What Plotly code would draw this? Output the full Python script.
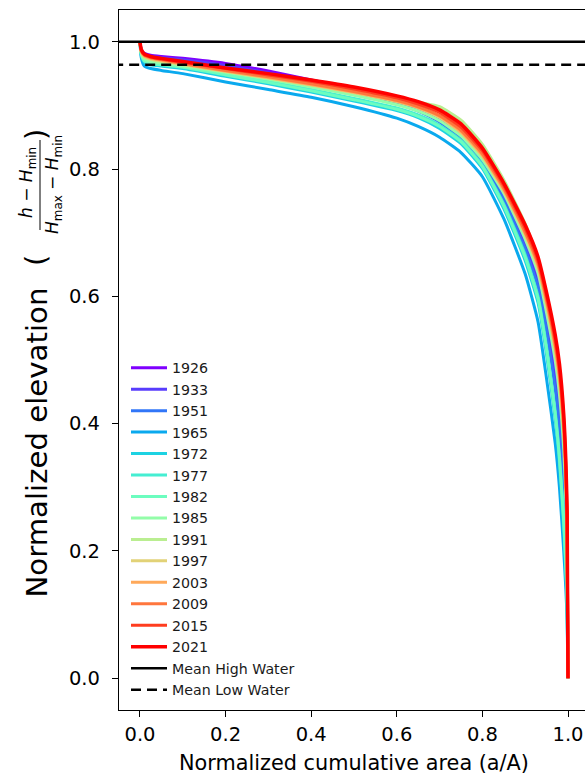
import plotly.graph_objects as go

# ---------------- data ----------------
YEARS = ["1926", "1933", "1951", "1965", "1972", "1977", "1982",
         "1985", "1991", "1997", "2003", "2009", "2015", "2021"]

X_GRID = [0.0, 0.003, 0.01, 0.025, 0.05, 0.1, 0.2, 0.3, 0.4, 0.5, 0.6, 0.65,
          0.7, 0.75, 0.8, 0.85, 0.9, 0.93, 0.95, 0.97, 0.98, 0.99, 0.995,
          0.998, 1.0]

Y_1926 = [1.0, .988, .982, .979, .977, .974, .966, .954, .940, .926, .907, .896,
          .879, .854, .815, .756, .683, .626, .560, .480, .420, .330, .260, .180, 0.0]
Y_1933 = [1.0, .987, .980, .977, .975, .972, .963, .951, .938, .925, .909, .898,
          .882, .857, .818, .760, .688, .632, .568, .490, .430, .340, .270, .190, 0.0]
Y_1951 = [1.0, .985, .977, .974, .972, .968, .958, .947, .934, .920, .903, .891,
          .874, .848, .810, .752, .675, .615, .545, .455, .390, .290, .220, .150, 0.0]
Y_1965 = [1.0, .975, .962, .958, .955, .950, .937, .925, .913, .898, .880, .867,
          .850, .826, .788, .722, .635, .560, .470, .370, .300, .200, .140, .090, 0.0]
Y_1972 = [1.0, .979, .968, .964, .962, .958, .946, .934, .921, .907, .892, .881,
          .864, .840, .801, .738, .656, .590, .508, .408, .338, .238, .170, .110, 0.0]
Y_1977 = [1.0, .982, .972, .968, .966, .962, .950, .938, .925, .911, .896, .885,
          .869, .845, .806, .745, .665, .600, .520, .420, .350, .250, .180, .120, 0.0]
Y_1982 = [1.0, .981, .970, .966, .964, .960, .948, .936, .923, .909, .894, .883,
          .867, .843, .804, .742, .661, .596, .515, .415, .345, .245, .175, .115, 0.0]
Y_1985 = [1.0, .982, .973, .969, .967, .962, .952, .941, .929, .916, .901, .891,
          .876, .852, .815, .762, .690, .636, .574, .500, .446, .360, .285, .205, 0.0]
Y_1991 = [1.0, .984, .976, .972, .969, .964, .953, .943, .933, .922, .913, .905,
          .898, .877, .839, .783, .714, .660, .603, .535, .488, .410, .335, .255, 0.0]
Y_1997 = [1.0, .984, .977, .973, .970, .965, .954, .943, .932, .920, .906, .896,
          .881, .857, .820, .766, .696, .644, .586, .515, .465, .385, .310, .230, 0.0]
Y_2003 = [1.0, .985, .978, .974, .971, .965, .954, .944, .933, .921, .907, .897,
          .883, .859, .822, .768, .699, .648, .590, .520, .472, .390, .315, .235, 0.0]
Y_2009 = [1.0, .986, .979, .975, .972, .966, .955, .945, .934, .922, .908, .898,
          .884, .861, .824, .770, .701, .651, .594, .525, .477, .396, .320, .240, 0.0]
Y_2015 = [1.0, .987, .980, .976, .973, .968, .958, .948, .938, .926, .912, .902,
          .889, .866, .829, .774, .707, .656, .600, .532, .485, .405, .330, .250, 0.0]
Y_2021 = [1.0, .988, .981, .977, .974, .969, .959, .950, .940, .929, .915, .906,
          .893, .871, .833, .778, .712, .662, .606, .540, .494, .415, .340, .260, 0.0]

SERIES = [Y_1926, Y_1933, Y_1951, Y_1965, Y_1972, Y_1977, Y_1982,
          Y_1985, Y_1991, Y_1997, Y_2003, Y_2009, Y_2015, Y_2021]

MEAN_HIGH_WATER = 1.0
MEAN_LOW_WATER = 0.964

X_TICKS = [0.0, 0.2, 0.4, 0.6, 0.8, 1.0]
Y_TICKS = [0.0, 0.2, 0.4, 0.6, 0.8, 1.0]

# ---------------- styles ----------------
COLORS = ["#7f00ff", "#583dfd", "#3176f8", "#0aa9ee", "#1dd2e2", "#45eed2",
          "#6cfdbf", "#93fda9", "#baee91", "#e2d277", "#ffa95a", "#ff763d",
          "#ff3d1f", "#ff0000"]
FONT = "DejaVu Sans"

fig = go.Figure()
for year, ys, col in zip(YEARS, SERIES, COLORS):
    fig.add_trace(go.Scatter(
        x=X_GRID, y=ys, mode="lines", name=year,
        line=dict(color=col, width=3.5 if year == "2021" else 3,
                  shape="spline", smoothing=0.5),
    ))

fig.add_trace(go.Scatter(x=[-0.1, 1.1], y=[MEAN_HIGH_WATER] * 2, mode="lines",
                         name="Mean High Water", line=dict(color="black", width=2.5)))
fig.add_trace(go.Scatter(x=[-0.1, 1.1], y=[MEAN_LOW_WATER] * 2, mode="lines",
                         name="Mean Low Water",
                         line=dict(color="black", width=2.5, dash="10px,6px")))

W, H = 585, 776
L, T, B = 119, 10, 66
PW, PH = W - L, H - T - B


def px(x):
    return (x - L) / PW


def py(y):
    return (H - B - y) / PH


fig.update_layout(
    width=W, height=H,
    margin=dict(l=L, r=0, t=T, b=B, pad=0),
    paper_bgcolor="white", plot_bgcolor="white",
    font=dict(family=FONT, color="black"),
    showlegend=True,
    legend=dict(x=px(126), y=py(352), xanchor="left", yanchor="top",
                bgcolor="rgba(0,0,0,0)", borderwidth=0, itemwidth=36,
                font=dict(size=14.2, family=FONT, color="#1a1a1a"),
                tracegroupgap=0),
    xaxis=dict(range=[-0.049, (585 - 140) / 428], tickvals=X_TICKS,
               ticktext=[f"{v:.1f}" for v in X_TICKS],
               showgrid=False, zeroline=False, showline=True, linecolor="black",
               linewidth=1.3, mirror=True, ticks="outside", ticklen=6, tickwidth=1.3,
               tickcolor="black", tickfont=dict(size=19.5, family=FONT, color="black")),
    yaxis=dict(range=[-0.05, 1.05], tickvals=Y_TICKS,
               ticktext=[f"{v:.1f}" for v in Y_TICKS], ticklabelstandoff=8,
               showgrid=False, zeroline=False, showline=True, linecolor="black",
               linewidth=1.3, mirror=False, ticks="outside", ticklen=6, tickwidth=1.3,
               tickcolor="black", tickfont=dict(size=19.5, family=FONT, color="black")),
)

ann = [
    dict(text="Normalized cumulative area (a/A)", x=px(354), y=py(763),
         font=dict(size=20.8)),
    dict(text="Normalized elevation", x=px(36), y=py(442.5), textangle=-90,
         font=dict(size=29.2)),
    dict(text="(", x=px(36), y=py(261), textangle=-90, font=dict(size=29.2)),
    dict(text=")", x=px(36), y=py(135), textangle=-90, font=dict(size=29.2)),
    dict(text="<i>h</i> − <i>H</i><sub>min</sub>", x=px(28), y=py(183),
         textangle=-90, font=dict(size=17)),
    dict(text="<i>H</i><sub>max</sub> − <i>H</i><sub>min</sub>", x=px(53), y=py(185),
         textangle=-90, font=dict(size=17)),
]
for a in ann:
    fig.add_annotation(xref="paper", yref="paper", showarrow=False,
                       xanchor="center", yanchor="middle",
                       **{k: v for k, v in a.items() if k != "font"},
                       font=dict(family=FONT, color="black", **a["font"]))

fig.add_shape(type="line", xref="paper", yref="paper",
              x0=px(40), x1=px(40), y0=py(140), y1=py(230),
              line=dict(color="black", width=1))

fig.write_html("out.html")
